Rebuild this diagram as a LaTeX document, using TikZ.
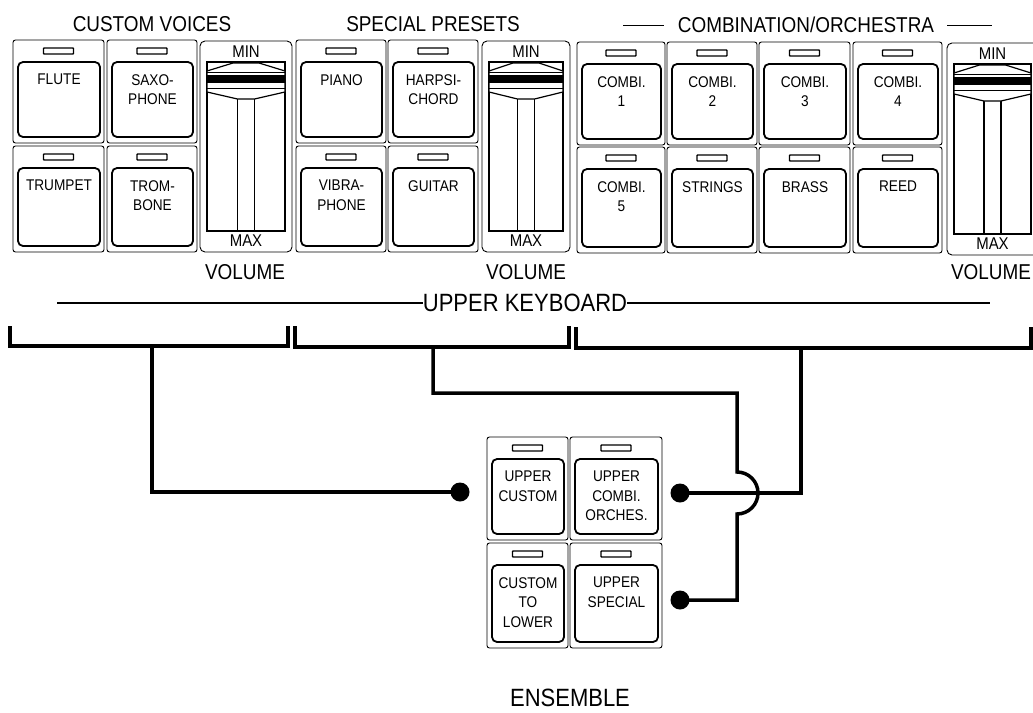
\documentclass[tikz,border=0pt]{standalone}
\usepackage{fontspec}
\setmainfont{Liberation Sans}[FakeStretch=0.88]
\tikzset{
  cellbox/.style={draw, line width=0.9pt, rounded corners=2.5pt},
  keybox/.style={draw, line width=1.8pt, rounded corners=5pt},
  ledbox/.style={draw, line width=1.4pt, rounded corners=0.6pt},
  slot/.style={draw, line width=1.2pt},
  hairline/.style={draw, line width=0.8pt},
  keylabel/.style={font=\fontsize{15.5}{19.5}\selectfont, align=center, anchor=north, inner sep=0pt},
  mmlabel/.style={font=\fontsize{17}{20}\selectfont, inner sep=0pt},
  head/.style={font=\fontsize{21.5}{24}\selectfont, inner sep=0pt, anchor=base},
  bighead/.style={font=\fontsize{25}{28}\selectfont, inner sep=0pt},
  wire/.style={line width=3.5pt},
  guide/.style={line width=2.5pt},
  jdot/.style={circle, fill, inner sep=0pt, minimum size=19pt}
}
\newcommand\cellbtn[6]{%
  \draw[cellbox] (#2,#3) rectangle (#4,#5);
  \draw[ledbox] ({(#2+#4)/2-15},{#3+8}) rectangle ({(#2+#4)/2+15},{#3+14});
  \draw[keybox] ({#2+5},{#3+22}) rectangle ({#4-4},{#5-6});
  \node[keylabel] (#1) at ({(#2+#4)/2+0.5},{#3+34}) {#6};}
\newcommand\volslider[5]{%
  \draw[cellbox, rounded corners=5pt] (#2,#3) rectangle (#4,#5);
  \draw[slot] ({#2+7},{#3+21}) rectangle ({#4-7},{#5-21});
  \draw[slot] ({(#2+#4)/2-8.5},{#3+58}) -- ({(#2+#4)/2-8.5},{#5-21})
              ({(#2+#4)/2+8.5},{#3+58}) -- ({(#2+#4)/2+8.5},{#5-21});
  \draw[slot, fill=white] ({#2+7},{#3+30}) -- ({(#2+#4)/2-13},{#3+22}) -- ({(#2+#4)/2+13},{#3+22})
     -- ({#4-7},{#3+30}) -- ({#4-7},{#3+51}) -- ({(#2+#4)/2+8.5},{#3+58})
     -- ({(#2+#4)/2-8.5},{#3+58}) -- ({#2+7},{#3+51}) -- cycle;
  \draw[hairline] ({#2+7},{#3+31}) -- ({#4-7},{#3+31}) ({#2+7},{#3+47}) -- ({#4-7},{#3+47});
  \fill ({#2+7},{#3+34}) rectangle ({#4-7},{#3+42});
  \node[mmlabel] (#1min) at ({(#2+#4)/2},{#3+11}) {MIN};
  \node[mmlabel] (#1max) at ({(#2+#4)/2},{#5-11}) {MAX};}
\begin{document}
\begin{tikzpicture}[x=1pt, y=-1pt]
\clip (0,0) rectangle (1033,712);
\fill[white] (0,0) rectangle (1033,712);
% headings
\node[head] (hcv) at (152,31) {CUSTOM VOICES};
\node[head] (hsp) at (433,31) {SPECIAL PRESETS};
\node[head] (hco) at (806,32.5) {COMBINATION/ORCHESTRA};
\draw[line width=1pt] (623,25) -- (664,25) (947,25) -- (992,25);
% custom voices
\cellbtn{flute}{13}{40}{104}{143}{FLUTE}
\cellbtn{saxo}{107}{40}{197}{143}{SAXO-\\PHONE}
\cellbtn{trumpet}{13}{146}{104}{252}{TRUMPET}
\cellbtn{trombone}{107}{146}{197}{252}{TROM-\\BONE}
\volslider{vA}{200}{41}{292}{252}
% special presets
\cellbtn{piano}{296}{40}{386}{143}{PIANO}
\cellbtn{harpsi}{388}{40}{478}{143}{HARPSI-\\CHORD}
\cellbtn{vibra}{296}{146}{386}{252}{VIBRA-\\PHONE}
\cellbtn{guitar}{388}{146}{478}{252}{GUITAR}
\volslider{vB}{482}{41}{570}{252}
% combination / orchestra
\cellbtn{combiA}{577}{42}{665}{145}{COMBI.\\1}
\cellbtn{combiB}{667}{42}{757}{145}{COMBI.\\2}
\cellbtn{combiC}{759}{42}{850}{145}{COMBI.\\3}
\cellbtn{combiD}{853}{42}{942}{145}{COMBI.\\4}
\cellbtn{combiE}{577}{147}{665}{253}{COMBI.\\5}
\cellbtn{strings}{667}{147}{757}{253}{STRINGS}
\cellbtn{brass}{759}{147}{850}{253}{BRASS}
\cellbtn{reed}{853}{147}{942}{253}{REED}
\volslider{vC}{947}{43}{1038}{255}
% volume labels
\node[head, anchor=center] (volA) at (245,272) {VOLUME};
\node[head, anchor=center] (volB) at (526,272) {VOLUME};
\node[head, anchor=center] (volC) at (991,272) {VOLUME};
% upper keyboard
\node[bighead] (uk) at (525,303) {UPPER KEYBOARD};
\draw[guide] (57,303) -- (uk.west) (uk.east) -- (990,303);
% brackets
\draw[wire] (10,326) -- (10,346) -- (288,346) -- (288,326);
\draw[wire] (295,326) -- (295,347) -- (569,347) -- (569,326);
\draw[wire] (576,327) -- (576,348) -- (1031,348) -- (1031,327);
\coordinate (bA) at (152,346);
\coordinate (bB) at (433,347);
\coordinate (bC) at (801,348);
% ensemble
\cellbtn{ucustom}{487}{437}{568}{540}{UPPER\\CUSTOM}
\cellbtn{ucombi}{570}{437}{662}{540}{UPPER\\COMBI.\\ORCHES.}
\cellbtn{ctl}{487}{543}{568}{648}{CUSTOM\\TO\\LOWER}
\cellbtn{uspecial}{570}{543}{662}{648}{UPPER\\SPECIAL}
\node[bighead] (ens) at (570,698) {ENSEMBLE};
% dots and wires
\coordinate (dA) at (460,492);
\coordinate (dB) at (680,493);
\coordinate (dC) at (680,600);
\draw[wire] (bA) |- (dA);
\draw[wire] (bC) |- (dB);
\draw[wire] (bB) |- (737,393) -- (737,472) arc[start angle=-90, end angle=90, radius=21] -- (737,600) -- (dC);
\node[jdot] (jA) at (dA) {};
\node[jdot] (jB) at (dB) {};
\node[jdot] (jC) at (dC) {};
\end{tikzpicture}
\end{document}
